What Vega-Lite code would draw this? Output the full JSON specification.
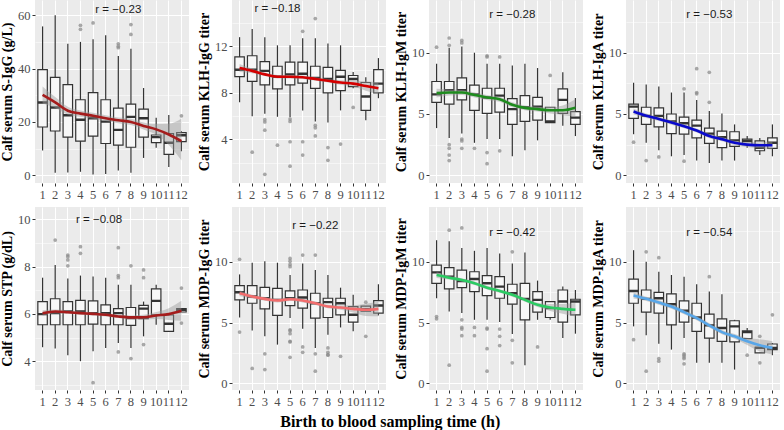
{
"$schema": "https://vega.github.io/schema/vega-lite/v6.json",
"padding": {"left": 0, "top": 0, "right": 0, "bottom": 2},
"background": "white",
"title": {"text": "Birth to blood sampling time (h)", "orient": "bottom", "anchor": "middle", "font": "Liberation Serif", "fontSize": 16, "fontWeight": "bold", "color": "#000000", "offset": 6},
"columns": 4,
"spacing": {"row": 6, "column": 8},
"concat": [
{"width":154,"height":183,
 "encoding":{"x":{"field":"x","type":"ordinal","scale":{"domain":[1,2,3,4,5,6,7,8,9,10,11,12],"paddingInner":0.25,"paddingOuter":0.225},"axis":{"title":null,"labelAngle":0,"grid":true,"labelOverlap":false}}},
 "resolve":{"axis":{"y":"independent"}},
 "layer":[
  {"data":{"name":"box"},"transform":[{"filter":"datum.p==1"}],"mark":{"type":"rule","color":"#333333","strokeWidth":1.2},"encoding":{"y":{"field":"lo","type":"quantitative","scale":{"domain":[-2.9,65.7],"nice":false,"zero":false},"axis":{"title":"Calf serum S-IgG (g/L)","values":[0,20,40,60],"grid":true}},"y2":{"field":"hi"}}},
  {"data":{"name":"box"},"transform":[{"filter":"datum.p==1"}],"mark":{"type":"bar","fill":"#F7F7F7","stroke":"#333333","strokeWidth":1.2},"encoding":{"y":{"field":"q1","type":"quantitative","axis":{"title":null,"values":[10,30,50],"grid":true,"gridWidth":0.5,"labels":false,"ticks":false,"domain":false}},"y2":{"field":"q3"}}},
  {"data":{"name":"box"},"transform":[{"filter":"datum.p==1"}],"mark":{"type":"bar","fill":"#333333","stroke":"#333333","strokeWidth":2.4},"encoding":{"y":{"field":"med","type":"quantitative","axis":null},"y2":{"field":"med"}}},
  {"data":{"name":"out"},"transform":[{"filter":"datum.p==1"}],"mark":{"type":"circle","color":"#8C8C8C","opacity":0.75,"size":14},"encoding":{"y":{"field":"y","type":"quantitative","axis":null}}},
  {"data":{"name":"fit"},"transform":[{"filter":"datum.p==1"}],"mark":{"type":"area","color":"#999999","opacity":0.45,"interpolate":"monotone"},"encoding":{"y":{"field":"lo","type":"quantitative","axis":null},"y2":{"field":"hi"}}},
  {"data":{"name":"fit"},"transform":[{"filter":"datum.p==1"}],"mark":{"type":"line","color":"#A51C1C","strokeWidth":2.6,"interpolate":"monotone"},"encoding":{"y":{"field":"f","type":"quantitative","axis":null}}},
  {"data":{"name":"lab"},"transform":[{"filter":"datum.p==1"}],"mark":{"type":"text","font":"Liberation Sans","fontSize":11.5,"color":"#1A1A1A"},"encoding":{"y":{"field":"y","type":"quantitative","axis":null},"text":{"field":"t"}}}
 ]},
{"width":154,"height":183,
 "encoding":{"x":{"field":"x","type":"ordinal","scale":{"domain":[1,2,3,4,5,6,7,8,9,10,11,12],"paddingInner":0.25,"paddingOuter":0.225},"axis":{"title":null,"labelAngle":0,"grid":true,"labelOverlap":false}}},
 "resolve":{"axis":{"y":"independent"}},
 "layer":[
  {"data":{"name":"box"},"transform":[{"filter":"datum.p==2"}],"mark":{"type":"rule","color":"#333333","strokeWidth":1.2},"encoding":{"y":{"field":"lo","type":"quantitative","scale":{"domain":[0.25,16.0],"nice":false,"zero":false},"axis":{"title":"Calf serum  KLH-IgG titer","values":[4,8,12],"grid":true}},"y2":{"field":"hi"}}},
  {"data":{"name":"box"},"transform":[{"filter":"datum.p==2"}],"mark":{"type":"bar","fill":"#F7F7F7","stroke":"#333333","strokeWidth":1.2},"encoding":{"y":{"field":"q1","type":"quantitative","axis":{"title":null,"values":[2,6,10,14],"grid":true,"gridWidth":0.5,"labels":false,"ticks":false,"domain":false}},"y2":{"field":"q3"}}},
  {"data":{"name":"box"},"transform":[{"filter":"datum.p==2"}],"mark":{"type":"bar","fill":"#333333","stroke":"#333333","strokeWidth":2.4},"encoding":{"y":{"field":"med","type":"quantitative","axis":null},"y2":{"field":"med"}}},
  {"data":{"name":"out"},"transform":[{"filter":"datum.p==2"}],"mark":{"type":"circle","color":"#8C8C8C","opacity":0.75,"size":14},"encoding":{"y":{"field":"y","type":"quantitative","axis":null}}},
  {"data":{"name":"fit"},"transform":[{"filter":"datum.p==2"}],"mark":{"type":"area","color":"#999999","opacity":0.45,"interpolate":"monotone"},"encoding":{"y":{"field":"lo","type":"quantitative","axis":null},"y2":{"field":"hi"}}},
  {"data":{"name":"fit"},"transform":[{"filter":"datum.p==2"}],"mark":{"type":"line","color":"#D40000","strokeWidth":2.6,"interpolate":"monotone"},"encoding":{"y":{"field":"f","type":"quantitative","axis":null}}},
  {"data":{"name":"lab"},"transform":[{"filter":"datum.p==2"}],"mark":{"type":"text","font":"Liberation Sans","fontSize":11.5,"color":"#1A1A1A"},"encoding":{"y":{"field":"y","type":"quantitative","axis":null},"text":{"field":"t"}}}
 ]},
{"width":154,"height":183,
 "encoding":{"x":{"field":"x","type":"ordinal","scale":{"domain":[1,2,3,4,5,6,7,8,9,10,11,12],"paddingInner":0.25,"paddingOuter":0.225},"axis":{"title":null,"labelAngle":0,"grid":true,"labelOverlap":false}}},
 "resolve":{"axis":{"y":"independent"}},
 "layer":[
  {"data":{"name":"box"},"transform":[{"filter":"datum.p==3"}],"mark":{"type":"rule","color":"#333333","strokeWidth":1.2},"encoding":{"y":{"field":"lo","type":"quantitative","scale":{"domain":[-0.63,14.3],"nice":false,"zero":false},"axis":{"title":"Calf serum  KLH-IgM titer","values":[0,5,10],"grid":true}},"y2":{"field":"hi"}}},
  {"data":{"name":"box"},"transform":[{"filter":"datum.p==3"}],"mark":{"type":"bar","fill":"#F7F7F7","stroke":"#333333","strokeWidth":1.2},"encoding":{"y":{"field":"q1","type":"quantitative","axis":{"title":null,"values":[2.5,7.5,12.5],"grid":true,"gridWidth":0.5,"labels":false,"ticks":false,"domain":false}},"y2":{"field":"q3"}}},
  {"data":{"name":"box"},"transform":[{"filter":"datum.p==3"}],"mark":{"type":"bar","fill":"#333333","stroke":"#333333","strokeWidth":2.4},"encoding":{"y":{"field":"med","type":"quantitative","axis":null},"y2":{"field":"med"}}},
  {"data":{"name":"out"},"transform":[{"filter":"datum.p==3"}],"mark":{"type":"circle","color":"#8C8C8C","opacity":0.75,"size":14},"encoding":{"y":{"field":"y","type":"quantitative","axis":null}}},
  {"data":{"name":"fit"},"transform":[{"filter":"datum.p==3"}],"mark":{"type":"area","color":"#999999","opacity":0.45,"interpolate":"monotone"},"encoding":{"y":{"field":"lo","type":"quantitative","axis":null},"y2":{"field":"hi"}}},
  {"data":{"name":"fit"},"transform":[{"filter":"datum.p==3"}],"mark":{"type":"line","color":"#1E8C1E","strokeWidth":2.6,"interpolate":"monotone"},"encoding":{"y":{"field":"f","type":"quantitative","axis":null}}},
  {"data":{"name":"lab"},"transform":[{"filter":"datum.p==3"}],"mark":{"type":"text","font":"Liberation Sans","fontSize":11.5,"color":"#1A1A1A"},"encoding":{"y":{"field":"y","type":"quantitative","axis":null},"text":{"field":"t"}}}
 ]},
{"width":154,"height":183,
 "encoding":{"x":{"field":"x","type":"ordinal","scale":{"domain":[1,2,3,4,5,6,7,8,9,10,11,12],"paddingInner":0.25,"paddingOuter":0.225},"axis":{"title":null,"labelAngle":0,"grid":true,"labelOverlap":false}}},
 "resolve":{"axis":{"y":"independent"}},
 "layer":[
  {"data":{"name":"box"},"transform":[{"filter":"datum.p==4"}],"mark":{"type":"rule","color":"#333333","strokeWidth":1.2},"encoding":{"y":{"field":"lo","type":"quantitative","scale":{"domain":[-0.63,14.3],"nice":false,"zero":false},"axis":{"title":"Calf serum  KLH-IgA titer","values":[0,5,10],"grid":true}},"y2":{"field":"hi"}}},
  {"data":{"name":"box"},"transform":[{"filter":"datum.p==4"}],"mark":{"type":"bar","fill":"#F7F7F7","stroke":"#333333","strokeWidth":1.2},"encoding":{"y":{"field":"q1","type":"quantitative","axis":{"title":null,"values":[2.5,7.5,12.5],"grid":true,"gridWidth":0.5,"labels":false,"ticks":false,"domain":false}},"y2":{"field":"q3"}}},
  {"data":{"name":"box"},"transform":[{"filter":"datum.p==4"}],"mark":{"type":"bar","fill":"#333333","stroke":"#333333","strokeWidth":2.4},"encoding":{"y":{"field":"med","type":"quantitative","axis":null},"y2":{"field":"med"}}},
  {"data":{"name":"out"},"transform":[{"filter":"datum.p==4"}],"mark":{"type":"circle","color":"#8C8C8C","opacity":0.75,"size":14},"encoding":{"y":{"field":"y","type":"quantitative","axis":null}}},
  {"data":{"name":"fit"},"transform":[{"filter":"datum.p==4"}],"mark":{"type":"area","color":"#999999","opacity":0.45,"interpolate":"monotone"},"encoding":{"y":{"field":"lo","type":"quantitative","axis":null},"y2":{"field":"hi"}}},
  {"data":{"name":"fit"},"transform":[{"filter":"datum.p==4"}],"mark":{"type":"line","color":"#0A0ACC","strokeWidth":2.6,"interpolate":"monotone"},"encoding":{"y":{"field":"f","type":"quantitative","axis":null}}},
  {"data":{"name":"lab"},"transform":[{"filter":"datum.p==4"}],"mark":{"type":"text","font":"Liberation Sans","fontSize":11.5,"color":"#1A1A1A"},"encoding":{"y":{"field":"y","type":"quantitative","axis":null},"text":{"field":"t"}}}
 ]},
{"width":154,"height":183,
 "encoding":{"x":{"field":"x","type":"ordinal","scale":{"domain":[1,2,3,4,5,6,7,8,9,10,11,12],"paddingInner":0.25,"paddingOuter":0.225},"axis":{"title":null,"labelAngle":0,"grid":true,"labelOverlap":false}}},
 "resolve":{"axis":{"y":"independent"}},
 "layer":[
  {"data":{"name":"box"},"transform":[{"filter":"datum.p==5"}],"mark":{"type":"rule","color":"#333333","strokeWidth":1.2},"encoding":{"y":{"field":"lo","type":"quantitative","scale":{"domain":[2.78,10.52],"nice":false,"zero":false},"axis":{"title":"Calf serum STP (g/dL)","values":[4,6,8,10],"grid":true}},"y2":{"field":"hi"}}},
  {"data":{"name":"box"},"transform":[{"filter":"datum.p==5"}],"mark":{"type":"bar","fill":"#F7F7F7","stroke":"#333333","strokeWidth":1.2},"encoding":{"y":{"field":"q1","type":"quantitative","axis":{"title":null,"values":[3,5,7,9],"grid":true,"gridWidth":0.5,"labels":false,"ticks":false,"domain":false}},"y2":{"field":"q3"}}},
  {"data":{"name":"box"},"transform":[{"filter":"datum.p==5"}],"mark":{"type":"bar","fill":"#333333","stroke":"#333333","strokeWidth":2.4},"encoding":{"y":{"field":"med","type":"quantitative","axis":null},"y2":{"field":"med"}}},
  {"data":{"name":"out"},"transform":[{"filter":"datum.p==5"}],"mark":{"type":"circle","color":"#8C8C8C","opacity":0.75,"size":14},"encoding":{"y":{"field":"y","type":"quantitative","axis":null}}},
  {"data":{"name":"fit"},"transform":[{"filter":"datum.p==5"}],"mark":{"type":"area","color":"#999999","opacity":0.45,"interpolate":"monotone"},"encoding":{"y":{"field":"lo","type":"quantitative","axis":null},"y2":{"field":"hi"}}},
  {"data":{"name":"fit"},"transform":[{"filter":"datum.p==5"}],"mark":{"type":"line","color":"#A51C1C","strokeWidth":2.6,"interpolate":"monotone"},"encoding":{"y":{"field":"f","type":"quantitative","axis":null}}},
  {"data":{"name":"lab"},"transform":[{"filter":"datum.p==5"}],"mark":{"type":"text","font":"Liberation Sans","fontSize":11.5,"color":"#1A1A1A","dx":6},"encoding":{"y":{"field":"y","type":"quantitative","axis":null},"text":{"field":"t"}}}
 ]},
{"width":154,"height":183,
 "encoding":{"x":{"field":"x","type":"ordinal","scale":{"domain":[1,2,3,4,5,6,7,8,9,10,11,12],"paddingInner":0.25,"paddingOuter":0.225},"axis":{"title":null,"labelAngle":0,"grid":true,"labelOverlap":false}}},
 "resolve":{"axis":{"y":"independent"}},
 "layer":[
  {"data":{"name":"box"},"transform":[{"filter":"datum.p==6"}],"mark":{"type":"rule","color":"#333333","strokeWidth":1.2},"encoding":{"y":{"field":"lo","type":"quantitative","scale":{"domain":[-0.54,14.5],"nice":false,"zero":false},"axis":{"title":"Calf serum  MDP-IgG titer","values":[0,5,10],"grid":true}},"y2":{"field":"hi"}}},
  {"data":{"name":"box"},"transform":[{"filter":"datum.p==6"}],"mark":{"type":"bar","fill":"#F7F7F7","stroke":"#333333","strokeWidth":1.2},"encoding":{"y":{"field":"q1","type":"quantitative","axis":{"title":null,"values":[2.5,7.5,12.5],"grid":true,"gridWidth":0.5,"labels":false,"ticks":false,"domain":false}},"y2":{"field":"q3"}}},
  {"data":{"name":"box"},"transform":[{"filter":"datum.p==6"}],"mark":{"type":"bar","fill":"#333333","stroke":"#333333","strokeWidth":2.4},"encoding":{"y":{"field":"med","type":"quantitative","axis":null},"y2":{"field":"med"}}},
  {"data":{"name":"out"},"transform":[{"filter":"datum.p==6"}],"mark":{"type":"circle","color":"#8C8C8C","opacity":0.75,"size":14},"encoding":{"y":{"field":"y","type":"quantitative","axis":null}}},
  {"data":{"name":"fit"},"transform":[{"filter":"datum.p==6"}],"mark":{"type":"area","color":"#999999","opacity":0.45,"interpolate":"monotone"},"encoding":{"y":{"field":"lo","type":"quantitative","axis":null},"y2":{"field":"hi"}}},
  {"data":{"name":"fit"},"transform":[{"filter":"datum.p==6"}],"mark":{"type":"line","color":"#F26D6D","strokeWidth":2.6,"interpolate":"monotone"},"encoding":{"y":{"field":"f","type":"quantitative","axis":null}}},
  {"data":{"name":"lab"},"transform":[{"filter":"datum.p==6"}],"mark":{"type":"text","font":"Liberation Sans","fontSize":11.5,"color":"#1A1A1A"},"encoding":{"y":{"field":"y","type":"quantitative","axis":null},"text":{"field":"t"}}}
 ]},
{"width":154,"height":183,
 "encoding":{"x":{"field":"x","type":"ordinal","scale":{"domain":[1,2,3,4,5,6,7,8,9,10,11,12],"paddingInner":0.25,"paddingOuter":0.225},"axis":{"title":null,"labelAngle":0,"grid":true,"labelOverlap":false}}},
 "resolve":{"axis":{"y":"independent"}},
 "layer":[
  {"data":{"name":"box"},"transform":[{"filter":"datum.p==7"}],"mark":{"type":"rule","color":"#333333","strokeWidth":1.2},"encoding":{"y":{"field":"lo","type":"quantitative","scale":{"domain":[-0.54,14.5],"nice":false,"zero":false},"axis":{"title":"Calf serum  MDP-IgM titer","values":[0,5,10],"grid":true}},"y2":{"field":"hi"}}},
  {"data":{"name":"box"},"transform":[{"filter":"datum.p==7"}],"mark":{"type":"bar","fill":"#F7F7F7","stroke":"#333333","strokeWidth":1.2},"encoding":{"y":{"field":"q1","type":"quantitative","axis":{"title":null,"values":[2.5,7.5,12.5],"grid":true,"gridWidth":0.5,"labels":false,"ticks":false,"domain":false}},"y2":{"field":"q3"}}},
  {"data":{"name":"box"},"transform":[{"filter":"datum.p==7"}],"mark":{"type":"bar","fill":"#333333","stroke":"#333333","strokeWidth":2.4},"encoding":{"y":{"field":"med","type":"quantitative","axis":null},"y2":{"field":"med"}}},
  {"data":{"name":"out"},"transform":[{"filter":"datum.p==7"}],"mark":{"type":"circle","color":"#8C8C8C","opacity":0.75,"size":14},"encoding":{"y":{"field":"y","type":"quantitative","axis":null}}},
  {"data":{"name":"fit"},"transform":[{"filter":"datum.p==7"}],"mark":{"type":"area","color":"#999999","opacity":0.45,"interpolate":"monotone"},"encoding":{"y":{"field":"lo","type":"quantitative","axis":null},"y2":{"field":"hi"}}},
  {"data":{"name":"fit"},"transform":[{"filter":"datum.p==7"}],"mark":{"type":"line","color":"#2BCB63","strokeWidth":2.6,"interpolate":"monotone"},"encoding":{"y":{"field":"f","type":"quantitative","axis":null}}},
  {"data":{"name":"lab"},"transform":[{"filter":"datum.p==7"}],"mark":{"type":"text","font":"Liberation Sans","fontSize":11.5,"color":"#1A1A1A"},"encoding":{"y":{"field":"y","type":"quantitative","axis":null},"text":{"field":"t"}}}
 ]},
{"width":154,"height":183,
 "encoding":{"x":{"field":"x","type":"ordinal","scale":{"domain":[1,2,3,4,5,6,7,8,9,10,11,12],"paddingInner":0.25,"paddingOuter":0.225},"axis":{"title":null,"labelAngle":0,"grid":true,"labelOverlap":false}}},
 "resolve":{"axis":{"y":"independent"}},
 "layer":[
  {"data":{"name":"box"},"transform":[{"filter":"datum.p==8"}],"mark":{"type":"rule","color":"#333333","strokeWidth":1.2},"encoding":{"y":{"field":"lo","type":"quantitative","scale":{"domain":[-0.54,14.5],"nice":false,"zero":false},"axis":{"title":"Calf serum  MDP-IgA titer","values":[0,5,10],"grid":true}},"y2":{"field":"hi"}}},
  {"data":{"name":"box"},"transform":[{"filter":"datum.p==8"}],"mark":{"type":"bar","fill":"#F7F7F7","stroke":"#333333","strokeWidth":1.2},"encoding":{"y":{"field":"q1","type":"quantitative","axis":{"title":null,"values":[2.5,7.5,12.5],"grid":true,"gridWidth":0.5,"labels":false,"ticks":false,"domain":false}},"y2":{"field":"q3"}}},
  {"data":{"name":"box"},"transform":[{"filter":"datum.p==8"}],"mark":{"type":"bar","fill":"#333333","stroke":"#333333","strokeWidth":2.4},"encoding":{"y":{"field":"med","type":"quantitative","axis":null},"y2":{"field":"med"}}},
  {"data":{"name":"out"},"transform":[{"filter":"datum.p==8"}],"mark":{"type":"circle","color":"#8C8C8C","opacity":0.75,"size":14},"encoding":{"y":{"field":"y","type":"quantitative","axis":null}}},
  {"data":{"name":"fit"},"transform":[{"filter":"datum.p==8"}],"mark":{"type":"area","color":"#999999","opacity":0.45,"interpolate":"monotone"},"encoding":{"y":{"field":"lo","type":"quantitative","axis":null},"y2":{"field":"hi"}}},
  {"data":{"name":"fit"},"transform":[{"filter":"datum.p==8"}],"mark":{"type":"line","color":"#58A6E8","strokeWidth":2.6,"interpolate":"monotone"},"encoding":{"y":{"field":"f","type":"quantitative","axis":null}}},
  {"data":{"name":"lab"},"transform":[{"filter":"datum.p==8"}],"mark":{"type":"text","font":"Liberation Sans","fontSize":11.5,"color":"#1A1A1A"},"encoding":{"y":{"field":"y","type":"quantitative","axis":null},"text":{"field":"t"}}}
 ]}
],
"datasets": {
"box": [
{"p":1,"x":1,"lo":9.3,"q1":18.1,"med":27.3,"q3":39.6,"hi":55.8},
{"p":1,"x":2,"lo":0.9,"q1":16.6,"med":25.4,"q3":36.7,"hi":60},
{"p":1,"x":3,"lo":1,"q1":14.3,"med":22.5,"q3":34,"hi":49.3},
{"p":1,"x":4,"lo":1.3,"q1":12.8,"med":20.8,"q3":28.3,"hi":50},
{"p":1,"x":5,"lo":0.3,"q1":14.7,"med":21.4,"q3":31,"hi":51},
{"p":1,"x":6,"lo":0.5,"q1":11.9,"med":20.1,"q3":28.3,"hi":52.5},
{"p":1,"x":7,"lo":1.8,"q1":11.3,"med":17,"q3":25.2,"hi":44.7},
{"p":1,"x":8,"lo":0.9,"q1":10.5,"med":21.9,"q3":26.7,"hi":47.4},
{"p":1,"x":9,"lo":6.5,"q1":14.3,"med":21.4,"q3":24.8,"hi":32.7},
{"p":1,"x":10,"lo":10.3,"q1":12.2,"med":14.3,"q3":15.1,"hi":21.6},
{"p":1,"x":11,"lo":3.1,"q1":7.8,"med":12.2,"q3":15.6,"hi":22.6},
{"p":1,"x":12,"lo":9,"q1":12.6,"med":15,"q3":16,"hi":16.5},
{"p":2,"x":1,"lo":7.2,"q1":9.4,"med":10.0,"q3":11.1,"hi":12.8},
{"p":2,"x":2,"lo":6.0,"q1":9.0,"med":10.0,"q3":11.2,"hi":13.5},
{"p":2,"x":3,"lo":6.2,"q1":8.7,"med":9.9,"q3":10.7,"hi":12.8},
{"p":2,"x":4,"lo":5.95,"q1":8.35,"med":9.4,"q3":10.3,"hi":12.1},
{"p":2,"x":5,"lo":5.9,"q1":8.7,"med":9.6,"q3":10.65,"hi":12.1},
{"p":2,"x":6,"lo":6.5,"q1":8.85,"med":9.65,"q3":10.65,"hi":12.7},
{"p":2,"x":7,"lo":5.55,"q1":8.4,"med":9.3,"q3":10.3,"hi":12.7},
{"p":2,"x":8,"lo":5.45,"q1":8.0,"med":9.2,"q3":10.2,"hi":12.25},
{"p":2,"x":9,"lo":6.5,"q1":8.2,"med":9.4,"q3":9.95,"hi":12.1},
{"p":2,"x":10,"lo":8.4,"q1":8.55,"med":9.2,"q3":9.5,"hi":9.8},
{"p":2,"x":11,"lo":5.65,"q1":6.5,"med":7.7,"q3":8.9,"hi":9.35},
{"p":2,"x":12,"lo":7.55,"q1":8.0,"med":8.8,"q3":10.0,"hi":11.0},
{"p":3,"x":1,"lo":3.85,"q1":5.95,"med":6.6,"q3":7.65,"hi":9.1},
{"p":3,"x":2,"lo":3.05,"q1":5.8,"med":6.95,"q3":7.65,"hi":10.4},
{"p":3,"x":3,"lo":3.4,"q1":6.15,"med":6.95,"q3":7.95,"hi":10.5},
{"p":3,"x":4,"lo":2.65,"q1":5.3,"med":6.6,"q3":7.35,"hi":10.0},
{"p":3,"x":5,"lo":2.95,"q1":5.05,"med":6.35,"q3":7.1,"hi":9.1},
{"p":3,"x":6,"lo":2.95,"q1":5.15,"med":6.5,"q3":7.1,"hi":9.1},
{"p":3,"x":7,"lo":1.55,"q1":4.15,"med":5.4,"q3":6.25,"hi":8.95},
{"p":3,"x":8,"lo":2.05,"q1":4.4,"med":5.55,"q3":6.5,"hi":9.1},
{"p":3,"x":9,"lo":2.85,"q1":4.5,"med":5.6,"q3":6.35,"hi":8.75},
{"p":3,"x":10,"lo":4.3,"q1":4.3,"med":4.4,"q3":5.55,"hi":5.55},
{"p":3,"x":11,"lo":4.05,"q1":5.05,"med":6.15,"q3":7.05,"hi":8.4},
{"p":3,"x":12,"lo":3.2,"q1":4.15,"med":4.7,"q3":5.2,"hi":6.3},
{"p":4,"x":1,"lo":3.35,"q1":4.65,"med":5.6,"q3":5.8,"hi":7.55},
{"p":4,"x":2,"lo":2.65,"q1":4.15,"med":4.85,"q3":5.55,"hi":7.4},
{"p":4,"x":3,"lo":2.05,"q1":3.95,"med":4.85,"q3":5.5,"hi":7.25},
{"p":4,"x":4,"lo":1.55,"q1":3.4,"med":4.4,"q3":5.0,"hi":6.75},
{"p":4,"x":5,"lo":1.65,"q1":3.35,"med":4.25,"q3":4.75,"hi":6.75},
{"p":4,"x":6,"lo":1.2,"q1":3.05,"med":4.05,"q3":4.5,"hi":6.15},
{"p":4,"x":7,"lo":1.0,"q1":2.6,"med":3.4,"q3":3.85,"hi":5.25},
{"p":4,"x":8,"lo":1.2,"q1":2.25,"med":3.1,"q3":3.6,"hi":5.05},
{"p":4,"x":9,"lo":1.2,"q1":2.35,"med":2.85,"q3":3.55,"hi":4.15},
{"p":4,"x":10,"lo":2.25,"q1":2.5,"med":2.8,"q3":2.95,"hi":3.2},
{"p":4,"x":11,"lo":1.65,"q1":2.0,"med":2.25,"q3":2.8,"hi":3.05},
{"p":4,"x":12,"lo":1.55,"q1":2.2,"med":2.65,"q3":3.05,"hi":4.15},
{"p":5,"x":1,"lo":4.59,"q1":5.54,"med":5.99,"q3":6.52,"hi":7.53},
{"p":5,"x":2,"lo":4.53,"q1":5.54,"med":6.03,"q3":6.64,"hi":8.07},
{"p":5,"x":3,"lo":4.25,"q1":5.54,"med":6.1,"q3":6.52,"hi":7.5},
{"p":5,"x":4,"lo":4.0,"q1":5.54,"med":6.1,"q3":6.57,"hi":7.62},
{"p":5,"x":5,"lo":4.42,"q1":5.57,"med":6.03,"q3":6.55,"hi":7.58},
{"p":5,"x":6,"lo":4.56,"q1":5.54,"med":6.03,"q3":6.38,"hi":7.53},
{"p":5,"x":7,"lo":4.77,"q1":5.54,"med":6.03,"q3":6.22,"hi":7.23},
{"p":5,"x":8,"lo":4.56,"q1":5.51,"med":5.82,"q3":6.27,"hi":7.23},
{"p":5,"x":9,"lo":5.05,"q1":5.8,"med":6.22,"q3":6.36,"hi":6.52},
{"p":5,"x":10,"lo":5.54,"q1":5.96,"med":6.55,"q3":7.06,"hi":7.23},
{"p":5,"x":11,"lo":5.26,"q1":5.26,"med":5.58,"q3":5.96,"hi":5.96},
{"p":5,"x":12,"lo":6.08,"q1":6.08,"med":6.17,"q3":6.22,"hi":6.22},
{"p":6,"x":1,"lo":5.42,"q1":6.87,"med":7.49,"q3":8.04,"hi":8.96},
{"p":6,"x":2,"lo":4.36,"q1":6.59,"med":7.14,"q3":8.04,"hi":9.92},
{"p":6,"x":3,"lo":3.87,"q1":6.13,"med":7.0,"q3":7.9,"hi":10.05},
{"p":6,"x":4,"lo":3.19,"q1":5.59,"med":6.87,"q3":7.82,"hi":9.92},
{"p":6,"x":5,"lo":5.37,"q1":6.4,"med":7.0,"q3":7.6,"hi":8.91},
{"p":6,"x":6,"lo":4.5,"q1":6.19,"med":7.06,"q3":7.68,"hi":9.86},
{"p":6,"x":7,"lo":2.92,"q1":5.37,"med":6.59,"q3":7.41,"hi":9.32},
{"p":6,"x":8,"lo":4.0,"q1":5.42,"med":6.68,"q3":7.0,"hi":8.91},
{"p":6,"x":9,"lo":4.6,"q1":5.64,"med":6.59,"q3":7.0,"hi":7.87},
{"p":6,"x":10,"lo":4.28,"q1":5.04,"med":5.64,"q3":6.32,"hi":7.28},
{"p":6,"x":11,"lo":5.95,"q1":5.95,"med":6.1,"q3":6.35,"hi":6.35},
{"p":6,"x":12,"lo":5.59,"q1":5.78,"med":6.4,"q3":6.81,"hi":8.15},
{"p":7,"x":1,"lo":7.0,"q1":8.23,"med":9.13,"q3":9.73,"hi":11.77},
{"p":7,"x":2,"lo":5.91,"q1":7.77,"med":8.77,"q3":9.51,"hi":11.69},
{"p":7,"x":3,"lo":5.78,"q1":7.87,"med":8.42,"q3":9.32,"hi":11.14},
{"p":7,"x":4,"lo":5.23,"q1":7.55,"med":8.58,"q3":9.18,"hi":10.9},
{"p":7,"x":5,"lo":5.23,"q1":7.22,"med":8.23,"q3":8.86,"hi":11.14},
{"p":7,"x":6,"lo":5.04,"q1":7.0,"med":7.96,"q3":8.77,"hi":10.68},
{"p":7,"x":7,"lo":4.06,"q1":6.51,"med":7.41,"q3":8.15,"hi":9.86},
{"p":7,"x":8,"lo":1.5,"q1":5.23,"med":6.95,"q3":8.23,"hi":10.76},
{"p":7,"x":9,"lo":5.23,"q1":5.86,"med":6.87,"q3":7.55,"hi":8.45},
{"p":7,"x":10,"lo":5.23,"q1":5.42,"med":6.19,"q3":6.73,"hi":6.73},
{"p":7,"x":11,"lo":3.73,"q1":5.04,"med":6.73,"q3":7.68,"hi":7.96},
{"p":7,"x":12,"lo":4.09,"q1":5.64,"med":6.73,"q3":6.92,"hi":7.68},
{"p":8,"x":1,"lo":4.69,"q1":6.59,"med":7.6,"q3":8.58,"hi":10.95},
{"p":8,"x":2,"lo":3.95,"q1":5.86,"med":6.95,"q3":7.68,"hi":10.0},
{"p":8,"x":3,"lo":3.27,"q1":5.78,"med":7.0,"q3":7.49,"hi":9.18},
{"p":8,"x":4,"lo":2.78,"q1":4.82,"med":6.51,"q3":7.36,"hi":8.91},
{"p":8,"x":5,"lo":3.73,"q1":5.04,"med":5.97,"q3":6.78,"hi":8.77},
{"p":8,"x":6,"lo":1.69,"q1":4.28,"med":5.42,"q3":6.59,"hi":8.15},
{"p":8,"x":7,"lo":1.69,"q1":3.73,"med":4.77,"q3":5.69,"hi":7.55},
{"p":8,"x":8,"lo":1.69,"q1":3.46,"med":4.55,"q3":5.31,"hi":7.33},
{"p":8,"x":9,"lo":1.14,"q1":3.41,"med":4.69,"q3":5.15,"hi":5.23},
{"p":8,"x":10,"lo":3.68,"q1":3.68,"med":4.22,"q3":4.33,"hi":4.55},
{"p":8,"x":11,"lo":2.51,"q1":2.51,"med":2.92,"q3":2.97,"hi":2.97},
{"p":8,"x":12,"lo":2.32,"q1":2.78,"med":2.92,"q3":3.24,"hi":3.32}
],
"out": [
{"p":1,"x":4,"y":56.2},{"p":1,"x":4,"y":54.7},{"p":1,"x":5,"y":57.1},{"p":1,"x":7,"y":49.3},{"p":1,"x":7,"y":48.4},{"p":1,"x":7,"y":47.8},{"p":1,"x":8,"y":56.5},{"p":1,"x":8,"y":52.8},{"p":1,"x":12,"y":22.3},
{"p":2,"x":2,"y":2.9},{"p":2,"x":3,"y":5.7},{"p":2,"x":3,"y":5.5},{"p":2,"x":3,"y":4.8},{"p":2,"x":3,"y":1.0},{"p":2,"x":4,"y":3.5},{"p":2,"x":5,"y":5.75},{"p":2,"x":5,"y":5.55},{"p":2,"x":5,"y":3.8},{"p":2,"x":5,"y":1.7},{"p":2,"x":6,"y":13.3},{"p":2,"x":6,"y":3.8},{"p":2,"x":6,"y":2.65},{"p":2,"x":7,"y":14.4},{"p":2,"x":7,"y":5.2},{"p":2,"x":7,"y":5.0},{"p":2,"x":7,"y":4.3},{"p":2,"x":8,"y":3.3},{"p":2,"x":8,"y":2.2},{"p":2,"x":9,"y":3.6},{"p":2,"x":10,"y":6.75},
{"p":3,"x":1,"y":10.45},{"p":3,"x":2,"y":11.2},{"p":3,"x":2,"y":10.6},{"p":3,"x":2,"y":2.5},{"p":3,"x":2,"y":2.2},{"p":3,"x":2,"y":1.65},{"p":3,"x":2,"y":1.2},{"p":3,"x":3,"y":11.0},{"p":3,"x":3,"y":10.8},{"p":3,"x":3,"y":2.95},{"p":3,"x":3,"y":2.8},{"p":3,"x":3,"y":2.2},{"p":3,"x":4,"y":2.2},{"p":3,"x":5,"y":9.75},{"p":3,"x":5,"y":9.65},{"p":3,"x":5,"y":1.85},{"p":3,"x":5,"y":0.95},{"p":3,"x":6,"y":9.65},{"p":3,"x":6,"y":2.0},{"p":3,"x":10,"y":8.15},
{"p":4,"x":1,"y":2.7},{"p":4,"x":2,"y":1.2},{"p":4,"x":3,"y":1.5},{"p":4,"x":5,"y":7.05},{"p":4,"x":5,"y":1.15},{"p":4,"x":6,"y":8.7},{"p":4,"x":6,"y":6.75},{"p":4,"x":6,"y":6.65},{"p":4,"x":7,"y":8.4},{"p":4,"x":7,"y":5.95},
{"p":5,"x":2,"y":9.12},{"p":5,"x":3,"y":8.49},{"p":5,"x":3,"y":8.42},{"p":5,"x":3,"y":8.28},{"p":5,"x":3,"y":8.03},{"p":5,"x":4,"y":8.84},{"p":5,"x":4,"y":8.56},{"p":5,"x":5,"y":3.09},{"p":5,"x":7,"y":8.8},{"p":5,"x":7,"y":7.62},{"p":5,"x":7,"y":7.53},{"p":5,"x":7,"y":4.39},{"p":5,"x":8,"y":8.03},{"p":5,"x":8,"y":4.11},{"p":5,"x":9,"y":7.86},{"p":5,"x":9,"y":7.53},{"p":5,"x":9,"y":4.7},{"p":5,"x":12,"y":7.09},{"p":5,"x":12,"y":5.61},
{"p":6,"x":1,"y":10.2},{"p":6,"x":1,"y":4.22},{"p":6,"x":2,"y":1.23},{"p":6,"x":3,"y":2.43},{"p":6,"x":3,"y":1.14},{"p":6,"x":5,"y":10.27},{"p":6,"x":5,"y":10.05},{"p":6,"x":5,"y":9.78},{"p":6,"x":5,"y":9.59},{"p":6,"x":5,"y":4.41},{"p":6,"x":5,"y":4.33},{"p":6,"x":5,"y":4.09},{"p":6,"x":5,"y":3.46},{"p":6,"x":5,"y":3.41},{"p":6,"x":5,"y":2.15},{"p":6,"x":6,"y":10.55},{"p":6,"x":6,"y":3.0},{"p":6,"x":6,"y":2.56},{"p":6,"x":7,"y":10.55},{"p":6,"x":7,"y":2.43},{"p":6,"x":7,"y":1.01},{"p":6,"x":8,"y":2.92},{"p":6,"x":8,"y":2.56},{"p":6,"x":8,"y":2.37},{"p":6,"x":8,"y":2.32},{"p":6,"x":9,"y":2.23},{"p":6,"x":11,"y":6.68},{"p":6,"x":11,"y":3.87},
{"p":7,"x":1,"y":5.5},{"p":7,"x":1,"y":5.31},{"p":7,"x":2,"y":12.59},{"p":7,"x":2,"y":1.5},{"p":7,"x":3,"y":12.78},{"p":7,"x":3,"y":5.23},{"p":7,"x":3,"y":4.6},{"p":7,"x":3,"y":4.47},{"p":7,"x":3,"y":3.92},{"p":7,"x":4,"y":4.6},{"p":7,"x":4,"y":3.92},{"p":7,"x":5,"y":4.55},{"p":7,"x":5,"y":4.47},{"p":7,"x":5,"y":2.86},{"p":7,"x":5,"y":1.01},{"p":7,"x":6,"y":4.47},{"p":7,"x":6,"y":3.87},{"p":7,"x":6,"y":3.11},{"p":7,"x":7,"y":10.82},{"p":7,"x":7,"y":3.54},{"p":7,"x":7,"y":1.69},{"p":7,"x":9,"y":3.0},
{"p":8,"x":1,"y":3.6},{"p":8,"x":2,"y":10.82},{"p":8,"x":2,"y":1.01},{"p":8,"x":3,"y":10.33},{"p":8,"x":3,"y":2.04},{"p":8,"x":3,"y":1.83},{"p":8,"x":5,"y":2.43},{"p":8,"x":5,"y":2.32},{"p":8,"x":5,"y":2.18},{"p":8,"x":5,"y":2.04},{"p":8,"x":5,"y":1.61},{"p":8,"x":7,"y":8.77},{"p":8,"x":10,"y":2.32},{"p":8,"x":11,"y":3.87},{"p":8,"x":11,"y":1.69},{"p":8,"x":12,"y":5.64}
],
"fit": [
{"p":1,"x":1,"f":30.1,"lo":26.9,"hi":33.3},{"p":1,"x":2,"f":27.3,"lo":25.3,"hi":29.3},{"p":1,"x":3,"f":24.2,"lo":22.7,"hi":25.7},{"p":1,"x":4,"f":23.1,"lo":21.9,"hi":24.3},{"p":1,"x":5,"f":22.3,"lo":21.2,"hi":23.4},{"p":1,"x":6,"f":21.4,"lo":20.3,"hi":22.5},{"p":1,"x":7,"f":20.6,"lo":19.5,"hi":21.7},{"p":1,"x":8,"f":20.0,"lo":18.8,"hi":21.2},{"p":1,"x":9,"f":18.5,"lo":17.2,"hi":19.8},{"p":1,"x":10,"f":17.2,"lo":15.2,"hi":19.2},{"p":1,"x":11,"f":15.3,"lo":11.3,"hi":19.3},{"p":1,"x":12,"f":12.8,"lo":5.5,"hi":21.3},
{"p":2,"x":1,"f":10.15,"lo":9.8,"hi":10.5},{"p":2,"x":2,"f":9.9,"lo":9.7,"hi":10.1},{"p":2,"x":3,"f":9.6,"lo":9.45,"hi":9.75},{"p":2,"x":4,"f":9.4,"lo":9.25,"hi":9.55},{"p":2,"x":5,"f":9.4,"lo":9.25,"hi":9.55},{"p":2,"x":6,"f":9.35,"lo":9.2,"hi":9.5},{"p":2,"x":7,"f":9.2,"lo":9.05,"hi":9.35},{"p":2,"x":8,"f":9.05,"lo":8.9,"hi":9.2},{"p":2,"x":9,"f":8.9,"lo":8.7,"hi":9.1},{"p":2,"x":10,"f":8.8,"lo":8.55,"hi":9.05},{"p":2,"x":11,"f":8.6,"lo":8.2,"hi":9.0},{"p":2,"x":12,"f":8.4,"lo":7.9,"hi":8.9},
{"p":3,"x":1,"f":6.7,"lo":6.35,"hi":7.05},{"p":3,"x":2,"f":6.75,"lo":6.5,"hi":7.0},{"p":3,"x":3,"f":6.75,"lo":6.55,"hi":6.95},{"p":3,"x":4,"f":6.55,"lo":6.35,"hi":6.75},{"p":3,"x":5,"f":6.35,"lo":6.15,"hi":6.55},{"p":3,"x":6,"f":6.2,"lo":6.0,"hi":6.4},{"p":3,"x":7,"f":5.75,"lo":5.55,"hi":5.95},{"p":3,"x":8,"f":5.5,"lo":5.3,"hi":5.7},{"p":3,"x":9,"f":5.4,"lo":5.2,"hi":5.6},{"p":3,"x":10,"f":5.3,"lo":5.05,"hi":5.55},{"p":3,"x":11,"f":5.3,"lo":4.9,"hi":5.7},{"p":3,"x":12,"f":5.5,"lo":4.8,"hi":6.2},
{"p":4,"x":1,"f":5.2,"lo":4.95,"hi":5.45},{"p":4,"x":2,"f":4.85,"lo":4.67,"hi":5.03},{"p":4,"x":3,"f":4.6,"lo":4.43,"hi":4.77},{"p":4,"x":4,"f":4.3,"lo":4.13,"hi":4.47},{"p":4,"x":5,"f":4.0,"lo":3.83,"hi":4.17},{"p":4,"x":6,"f":3.65,"lo":3.48,"hi":3.82},{"p":4,"x":7,"f":3.2,"lo":3.03,"hi":3.37},{"p":4,"x":8,"f":2.95,"lo":2.78,"hi":3.12},{"p":4,"x":9,"f":2.65,"lo":2.48,"hi":2.82},{"p":4,"x":10,"f":2.5,"lo":2.3,"hi":2.7},{"p":4,"x":11,"f":2.45,"lo":2.2,"hi":2.7},{"p":4,"x":12,"f":2.45,"lo":2.1,"hi":2.8},
{"p":5,"x":1,"f":6.03,"lo":5.91,"hi":6.15},{"p":5,"x":2,"f":6.1,"lo":6.02,"hi":6.18},{"p":5,"x":3,"f":6.07,"lo":6.0,"hi":6.14},{"p":5,"x":4,"f":6.03,"lo":5.96,"hi":6.1},{"p":5,"x":5,"f":6.0,"lo":5.93,"hi":6.07},{"p":5,"x":6,"f":5.96,"lo":5.89,"hi":6.03},{"p":5,"x":7,"f":5.89,"lo":5.82,"hi":5.96},{"p":5,"x":8,"f":5.85,"lo":5.77,"hi":5.93},{"p":5,"x":9,"f":5.86,"lo":5.76,"hi":5.96},{"p":5,"x":10,"f":5.93,"lo":5.78,"hi":6.08},{"p":5,"x":11,"f":5.99,"lo":5.74,"hi":6.24},{"p":5,"x":12,"f":6.13,"lo":5.71,"hi":6.55},
{"p":6,"x":1,"f":7.41,"lo":7.16,"hi":7.66},{"p":6,"x":2,"f":7.14,"lo":6.99,"hi":7.29},{"p":6,"x":3,"f":6.95,"lo":6.8,"hi":7.1},{"p":6,"x":4,"f":6.81,"lo":6.66,"hi":6.96},{"p":6,"x":5,"f":6.92,"lo":6.77,"hi":7.07},{"p":6,"x":6,"f":6.81,"lo":6.66,"hi":6.96},{"p":6,"x":7,"f":6.59,"lo":6.44,"hi":6.74},{"p":6,"x":8,"f":6.32,"lo":6.17,"hi":6.47},{"p":6,"x":9,"f":6.24,"lo":6.06,"hi":6.42},{"p":6,"x":10,"f":6.13,"lo":5.83,"hi":6.43},{"p":6,"x":11,"f":6.05,"lo":5.55,"hi":6.55},{"p":6,"x":12,"f":6.13,"lo":5.53,"hi":6.73},
{"p":7,"x":1,"f":8.91,"lo":8.66,"hi":9.16},{"p":7,"x":2,"f":8.69,"lo":8.54,"hi":8.84},{"p":7,"x":3,"f":8.5,"lo":8.35,"hi":8.65},{"p":7,"x":4,"f":8.23,"lo":8.08,"hi":8.38},{"p":7,"x":5,"f":7.87,"lo":7.72,"hi":8.02},{"p":7,"x":6,"f":7.6,"lo":7.45,"hi":7.75},{"p":7,"x":7,"f":7.28,"lo":7.13,"hi":7.43},{"p":7,"x":8,"f":6.87,"lo":6.72,"hi":7.02},{"p":7,"x":9,"f":6.46,"lo":6.28,"hi":6.64},{"p":7,"x":10,"f":6.24,"lo":5.96,"hi":6.52},{"p":7,"x":11,"f":6.13,"lo":5.73,"hi":6.53},{"p":7,"x":12,"f":6.05,"lo":5.5,"hi":6.6},
{"p":8,"x":1,"f":7.22,"lo":6.97,"hi":7.47},{"p":8,"x":2,"f":6.95,"lo":6.77,"hi":7.13},{"p":8,"x":3,"f":6.65,"lo":6.47,"hi":6.83},{"p":8,"x":4,"f":6.32,"lo":6.14,"hi":6.5},{"p":8,"x":5,"f":5.86,"lo":5.68,"hi":6.04},{"p":8,"x":6,"f":5.37,"lo":5.19,"hi":5.55},{"p":8,"x":7,"f":4.77,"lo":4.59,"hi":4.95},{"p":8,"x":8,"f":4.22,"lo":4.04,"hi":4.4},{"p":8,"x":9,"f":3.87,"lo":3.67,"hi":4.07},{"p":8,"x":10,"f":3.46,"lo":3.16,"hi":3.76},{"p":8,"x":11,"f":3.13,"lo":2.63,"hi":3.63},{"p":8,"x":12,"f":2.92,"lo":2.37,"hi":3.47}
],
"lab": [
{"p":1,"x":7,"y":62,"t":"r = −0.23"},
{"p":2,"x":4,"y":15.2,"t":"r = −0.18"},
{"p":3,"x":7,"y":13.1,"t":"r = −0.28"},
{"p":4,"x":7,"y":13.1,"t":"r = −0.53"},
{"p":5,"x":5,"y":9.96,"t":"r = −0.08"},
{"p":6,"x":7,"y":12.9,"t":"r = −0.22"},
{"p":7,"x":7,"y":12.4,"t":"r = −0.42"},
{"p":8,"x":7,"y":12.4,"t":"r = −0.54"}
]
},
"config": {
 "view": {"fill": "#EBEBEB", "stroke": null},
 "axis": {"domain": false, "gridColor": "#FFFFFF", "gridWidth": 1.1, "tickColor": "#333333", "tickSize": 3, "labelFont": "Liberation Serif", "labelFontSize": 12.5, "labelColor": "#4D4D4D", "labelPadding": 2, "titleFont": "Liberation Serif", "titleFontWeight": "bold", "titleFontSize": 14, "titleColor": "#000000", "titlePadding": 3}
}
}
